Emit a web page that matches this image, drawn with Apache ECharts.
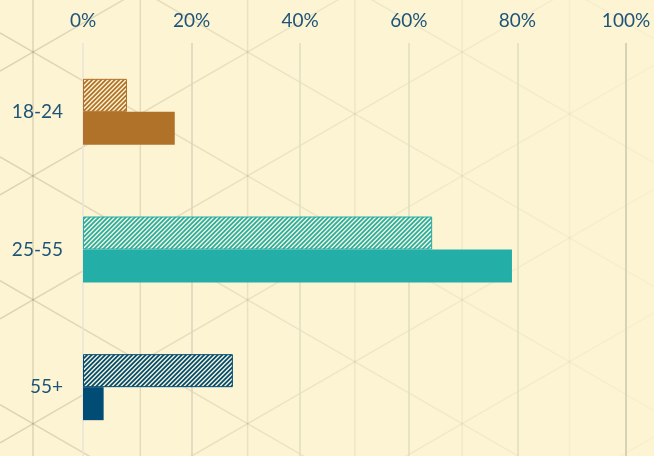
<!DOCTYPE html>
<html>
<head>
<meta charset="utf-8">
<script src="https://cdn.jsdelivr.net/npm/echarts@6/dist/echarts.min.js"></script>
<style>
html,body{margin:0;padding:0;background:#FCF4D3;}
#chart{width:654px;height:456px;}
</style>
</head>
<body>
<div id="chart"></div>
<script>
// ---- data ----
var categories = ['18-24', '25-55', '55+'];
var hatchedValues = [8.1, 64.3, 27.6];
var solidValues = [16.9, 79.0, 3.8];
var categoryColors = ['#B07228', '#24AEA8', '#004C75'];
var tickValues = [0, 20, 40, 60, 80, 100];

var BG = '#FCF4D3';
var TEXT = '#1E5479';

function hexRgb(h) {
  return [parseInt(h.substr(1, 2), 16), parseInt(h.substr(3, 2), 16), parseInt(h.substr(5, 2), 16)];
}
function hatch(color) {
  var N = 9, P = 4.5, frac = 0.55, SS = 4;
  var c = document.createElement('canvas');
  c.width = N; c.height = N;
  var ctx = c.getContext('2d');
  var a = hexRgb(BG), b = hexRgb(color);
  var img = ctx.createImageData(N, N);
  for (var x = 0; x < N; x++) {
    for (var y = 0; y < N; y++) {
      var cov = 0;
      for (var i = 0; i < SS; i++) for (var j = 0; j < SS; j++) {
        var t = x + (i + 0.5) / SS + y + (j + 0.5) / SS;
        var ph = ((t % P) + P) % P / P;
        if (ph < frac) cov++;
      }
      cov /= SS * SS;
      var o = (y * N + x) * 4;
      for (var q = 0; q < 3; q++) img.data[o + q] = Math.round(a[q] * (1 - cov) + b[q] * cov);
      img.data[o + 3] = 255;
    }
  }
  ctx.putImageData(img, 0, 0);
  return { image: c, repeat: 'repeat' };
}

// background triangular lattice (decoration)
var W = 654, H = 456;
var bgEls = [];
var stroke = new echarts.graphic.LinearGradient(0, 0, W, 0, [
  { offset: 0, color: 'rgba(125,115,85,0.26)' },
  { offset: 0.45, color: 'rgba(125,115,85,0.12)' },
  { offset: 1, color: 'rgba(125,115,85,0.04)' }
], true);
var dx = 107.3, x0 = 33, y0 = 52, s = Math.tan(Math.PI / 6), dy = 2 * dx * s;
for (var k = -1; k < 8; k++) {
  var xv = x0 + k * dx;
  bgEls.push({ type: 'line', silent: true, z: -10,
    shape: { x1: xv, y1: 0, x2: xv, y2: H },
    style: { stroke: stroke, lineWidth: 1.5 } });
}
for (var m = -8; m < 10; m++) {
  var yb = y0 + m * dy;
  bgEls.push({ type: 'line', silent: true, z: -10,
    shape: { x1: 0, y1: yb - s * x0, x2: W, y2: yb + s * (W - x0) },
    style: { stroke: stroke, lineWidth: 1.5 } });
  bgEls.push({ type: 'line', silent: true, z: -10,
    shape: { x1: 0, y1: yb + s * x0, x2: W, y2: yb - s * (W - x0) },
    style: { stroke: stroke, lineWidth: 1.5 } });
}

var chart = echarts.init(document.getElementById('chart'), null, { renderer: 'canvas' });
chart.setOption({
  backgroundColor: BG,
  animation: false,
  graphic: bgEls,
  grid: { left: 83, right: 28, top: 43, bottom: 0, containLabel: false },
  xAxis: {
    type: 'value', position: 'top', min: 0, max: 100, interval: 20,
    axisLine: { show: false }, axisTick: { show: false },
    axisLabel: {
      formatter: function (v) { return v + '%'; },
      color: TEXT, fontFamily: 'Lato', fontSize: 19, margin: 13
    },
    splitLine: { show: true, lineStyle: {
      color: ['#E8E5DA', '#D8D4BC', '#DEDFC0', '#DEDFC0', '#DEDFC0', '#CCC7AA'],
      width: 1.5 } }
  },
  yAxis: {
    type: 'category', data: categories, inverse: true,
    axisLine: { show: false }, axisTick: { show: false },
    axisLabel: { color: TEXT, fontFamily: 'Lato', fontSize: 19, margin: 20 },
    splitLine: { show: false }
  },
  series: [
    {
      type: 'bar', barWidth: 33, barGap: '0%',
      data: hatchedValues.map(function (v, i) {
        return { value: v, itemStyle: { color: hatch(categoryColors[i]), borderColor: categoryColors[i], borderWidth: 1 } };
      })
    },
    {
      type: 'bar', barWidth: 33, barGap: '0%',
      data: solidValues.map(function (v, i) {
        return { value: v, itemStyle: { color: categoryColors[i], borderColor: categoryColors[i], borderWidth: 0 } };
      })
    }
  ]
});
</script>
</body>
</html>
